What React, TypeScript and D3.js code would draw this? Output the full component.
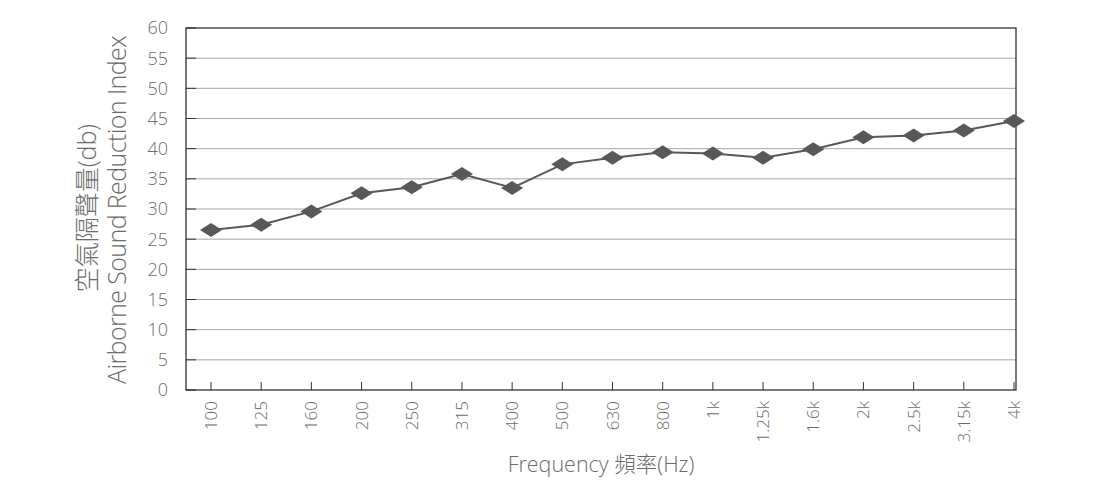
import React from "react";
import * as d3 from "d3";

const categories = ["100","125","160","200","250","315","400","500","630","800","1k","1.25k","1.6k","2k","2.5k","3.15k","4k"];
const values = [26.5,27.4,29.6,32.6,33.6,35.8,33.5,37.4,38.5,39.4,39.2,38.5,39.9,41.9,42.2,43.0,44.6];
const yTicks = [0,5,10,15,20,25,30,35,40,45,50,55,60];
const yTitleZh = "空氣隔聲量(db)";
const yTitleEn = "Airborne Sound Reduction Index";
const xTitle = "Frequency 頻率(Hz)";

const W = 1095, H = 500;
const L = 186, R = 1016, T = 28, B = 390;
const FONT = "'Open Sans', 'Noto Sans', 'Noto Sans CJK TC', sans-serif";
const TXT = "#6b6b6b";

export default function App() {
  const x = d3.scalePoint<string>().domain(categories).range([211, 1014]);
  const y = d3.scaleLinear().domain([0, 60]).range([B, T]);
  const line = d3.line<number>().x((_, i) => x(categories[i])!).y(d => y(d));
  const diamond = "M0,-7L11,0L0,7L-11,0Z";
  return (
    <svg width={W} height={H} style={{ position: "absolute", left: 0, top: 0, background: "#fff" }} fontFamily={FONT}>
      {yTicks.map(t => (
        <g key={t}>
          {t > 0 && t < 60 && <line x1={L} x2={R} y1={y(t)} y2={y(t)} stroke="#a6a6a6" strokeWidth={1} />}
          <line x1={L} x2={L + 10} y1={y(t)} y2={y(t)} stroke="#333" strokeWidth={1} />
          <text x={168} y={y(t)} dy="0.36em" textAnchor="end" fontSize={18} fill={TXT} fontWeight={300}>{t}</text>
        </g>
      ))}
      <rect x={L} y={T} width={R - L} height={B - T} fill="none" stroke="#222" strokeWidth={1.2} />
      {categories.map(c => (
        <g key={c}>
          <line x1={x(c)!} x2={x(c)!} y1={B} y2={B - 8} stroke="#333" strokeWidth={1} />
          <text transform={`translate(${x(c)! + 6},401) rotate(-90)`} textAnchor="end" fontSize={17} fill={TXT} fontWeight={300}>{c}</text>
        </g>
      ))}
      <path d={line(values)!} fill="none" stroke="#595757" strokeWidth={2} />
      {values.map((v, i) => (
        <path key={i} d={diamond} transform={`translate(${x(categories[i])},${y(v)})`} fill="#595757" />
      ))}
      <text transform="translate(96,208) rotate(-90)" textAnchor="middle" fontSize={25} fill={TXT} fontWeight={300}>{yTitleZh}</text>
      <text transform="translate(126,210) rotate(-90)" textAnchor="middle" fontSize={25} fill={TXT} fontWeight={300} letterSpacing={-0.6}>{yTitleEn}</text>
      <text x={601} y={472} textAnchor="middle" fontSize={21.5} fill={TXT} fontWeight={300}>{xTitle}</text>
    </svg>
  );
}
